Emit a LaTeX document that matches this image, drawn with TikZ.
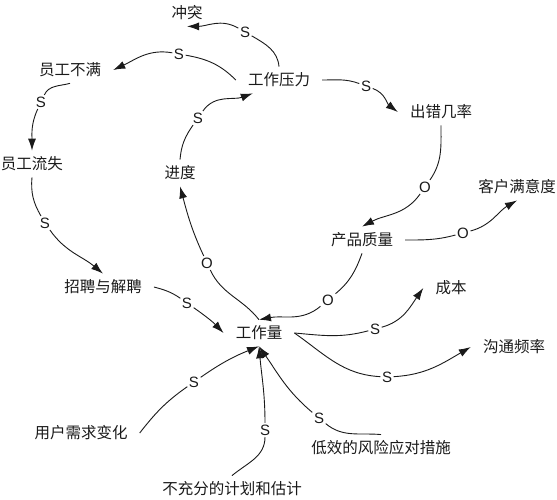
\documentclass[tikz,border=0pt]{standalone}
\usepackage{fontspec}
\usepackage{tikz}
\usepackage{xcolor}
\usetikzlibrary{arrows.meta}
\setsansfont{Liberation Sans}
\newfontfamily\cjk{Noto Sans CJK SC}
\definecolor{ink}{HTML}{1A1A1A}
\tikzset{
  var/.style={font=\cjk\fontsize{15.5}{18}\selectfont,text=ink,
              inner xsep=12pt,inner ysep=6pt},
  pol/.style={font=\sffamily\fontsize{15}{18}\selectfont,text=ink,inner sep=1.5pt},
  link/.style={draw=ink,line width=0.9pt},
  cause/.style={link,-{Latex[length=12pt,width=8pt]}},
}

\begin{document}
\begin{tikzpicture}[x=1pt,y=1pt]
  \useasboundingbox (0,0) rectangle (557,-500);
  % variables
  \node[var] (ct)    at (187,-13)  {冲突};
  \node[var] (ygbm)  at (70,-70)   {员工不满};
  \node[var] (gzyl)  at (279,-80)  {工作压力};
  \node[var] (ccjl)  at (441,-112) {出错几率};
  \node[var] (ygls)  at (32,-164)  {员工流失};
  \node[var] (jd)    at (180,-173) {进度};
  \node[var] (khmyd) at (517,-187) {客户满意度};
  \node[var] (cpzl)  at (362,-240) {产品质量};
  \node[var] (zpjp)  at (103,-287) {招聘与解聘};
  \node[var] (cb)    at (451,-288) {成本};
  \node[var] (gzl)   at (259,-333) {工作量};
  \node[var] (gtpl)  at (514,-347) {沟通频率};
  \node[var] (yhxq)  at (81,-433)  {用户需求变化};
  \node[var] (fxyd)  at (381,-448) {低效的风险应对措施};
  \node[var] (jhgj)  at (232,-489) {不充分的计划和估计};
  % polarities
  \node[pol] (s1)  at (245,-32)  {S};
  \node[pol] (s2)  at (179,-54)  {S};
  \node[pol] (s3)  at (41,-102)  {S};
  \node[pol] (s4)  at (45,-223)  {S};
  \node[pol] (s5)  at (187,-303) {S};
  \node[pol] (o1)  at (207,-263) {O};
  \node[pol] (s6)  at (198,-118) {S};
  \node[pol] (s7)  at (366,-86)  {S};
  \node[pol] (o2)  at (425,-187) {O};
  \node[pol] (o3)  at (463,-233) {O};
  \node[pol] (o4)  at (328,-300) {O};
  \node[pol] (s8)  at (375,-329) {S};
  \node[pol] (s9)  at (387,-377) {S};
  \node[pol] (s10) at (194,-382) {S};
  \node[pol] (s11) at (265,-430) {S};
  \node[pol] (s12) at (319,-418) {S};
  % links
  \draw[link]  (gzyl.north) to[out=95,in=-30] (s1);
  \draw[cause] (s1) to[out=150,in=0] (ct.south);
  \draw[link]  (gzyl.west) to[out=135,in=-10] (s2);
  \draw[cause] (s2) to[out=170,in=25] (ygbm.east);
  \draw[link]  (ygbm.south) to[out=195,in=65] (s3);
  \draw[cause] (s3) to[out=245,in=90] (ygls.north);
  \draw[link]  (ygls.south) to[out=265,in=120] (s4);
  \draw[cause] (s4) to[out=-55,in=140] (zpjp.north);
  \draw[link]  (zpjp.east) to[out=-15,in=145] (s5);
  \draw[cause] (s5) to[out=-35,in=134] (gzl.west);
  \draw[link]  (gzl.north) to[out=128,in=-65] (o1);
  \draw[cause] (o1) to[out=115,in=-75] (jd.south);
  \draw[link]  (jd.north) to[out=85,in=-125] (s6);
  \draw[cause] (s6) to[out=55,in=200] (gzyl.-153);
  \draw[link]  (gzyl.east) to[out=0,in=160] (s7);
  \draw[cause] (s7) to[out=-20,in=143] (ccjl.west);
  \draw[link]  (ccjl.south) to[out=270,in=55] (o2);
  \draw[cause] (o2) to[out=235,in=28] (cpzl.north);
  \draw[link]  (cpzl.east) to[out=0,in=195] (o3);
  \draw[cause] (o3) to[out=15,in=210] (khmyd.south);
  \draw[link]  (cpzl.south) to[out=250,in=40] (o4);
  \draw[cause] (o4) to[out=220,in=11] (gzl.north);
  \draw[link]  (gzl.east) to[out=-5,in=195] (s8);
  \draw[cause] (s8) to[out=15,in=235] (cb.west);
  \draw[link]  (gzl.east) to[out=-35,in=177] (s9);
  \draw[cause] (s9) to[out=3,in=210] (gtpl.west);
  \draw[link]  (yhxq.east) to[out=52,in=215] (s10);
  \draw[cause] (s10) to[out=35,in=202] (gzl.south);
  \draw[link]  (jhgj.north) to[out=40,in=270] (s11);
  \draw[cause] (s11) to[out=90,in=-85] (gzl.south);
  \draw[link]  (fxyd.north) to[out=175,in=-40] (s12);
  \draw[cause] (s12) to[out=140,in=-55] (gzl.south);
\end{tikzpicture}
\end{document}
